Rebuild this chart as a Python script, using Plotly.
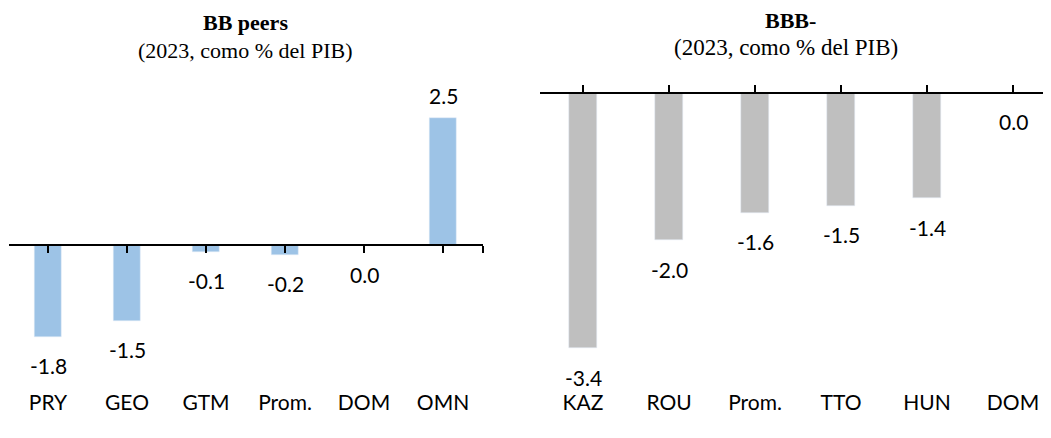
import plotly.graph_objects as go

# ---- data ----
bb_categories = ["PRY", "GEO", "GTM", "Prom.", "DOM", "OMN"]
bb_values = [-1.8, -1.49, -0.13, -0.19, 0.0, 2.49]

bbb_categories = ["KAZ", "ROU", "Prom.", "TTO", "HUN", "DOM"]
bbb_values = [-3.41, -1.97, -1.6, -1.51, -1.41, 0.0]

left_title = "BB peers"
right_title = "BBB-"
subtitle = "(2023, como % del PIB)"

# page is 1051x438, html body adds an 8px margin
PAGE_W, PAGE_H, OFF = 1051, 438, 8
W, H = PAGE_W - OFF, PAGE_H - OFF


def px(p):
    return (p - OFF) / W


def py(p):
    return 1 - (p - OFF) / H


BLUE = "#9DC3E6"
GRAY = "#BFBFBF"
LABEL_FONT = dict(family="Lato, Calibri, sans-serif", size=21, color="#000000")
TITLE_FONT = "Liberation Serif, Palatino, serif"

# plot-area geometry (page pixels -> paper fractions)
y_dom = [py(388), py(80)]
left_dom = [px(8.5), px(482.5)]
right_dom = [px(540), px(PAGE_W)]
n = len(bb_categories)
left_xrange = [-0.5, n - 0.5]
right_xrange = [-0.5, (PAGE_W - 540) / 86 - 0.5]
left_range = [-(388 - 245) / 51, (245 - 80) / 51]
right_range = [-(388 - 92.7) / 75, (92.7 - 80) / 75]


def zero_pos(rng, dom):
    return dom[0] + (0 - rng[0]) / (rng[1] - rng[0]) * (dom[1] - dom[0])


fig = go.Figure()

fig.add_trace(go.Bar(x=bb_categories, y=bb_values, marker_color=BLUE, width=0.33,
                     xaxis="x", yaxis="y", showlegend=False, hoverinfo="x+y"))
fig.add_trace(go.Bar(x=bbb_categories, y=bbb_values, marker_color=GRAY, width=0.33,
                     xaxis="x2", yaxis="y2", showlegend=False, hoverinfo="x+y"))

# invisible traces to carry the zero-line axes
fig.add_trace(go.Scatter(x=bb_categories, y=bb_values, mode="markers",
                         marker=dict(opacity=0), xaxis="x3", yaxis="y",
                         showlegend=False, hoverinfo="skip"))
fig.add_trace(go.Scatter(x=bbb_categories, y=bbb_values, mode="markers",
                         marker=dict(opacity=0), xaxis="x4", yaxis="y2",
                         showlegend=False, hoverinfo="skip"))

common_x = dict(type="category", showgrid=False, zeroline=False, showline=False,
                ticks="", tickfont=LABEL_FONT, fixedrange=True)
zero_axis = dict(type="category", showgrid=False, zeroline=False, showline=True,
                 linecolor="#000000", linewidth=2, ticks="outside", ticklen=7,
                 tickwidth=2, tickcolor="#000000", tickmode="array",
                 showticklabels=False, anchor="free", fixedrange=True)

fig.update_layout(
    width=W, height=H,
    margin=dict(l=0, r=0, t=0, b=0),
    paper_bgcolor="white", plot_bgcolor="rgba(0,0,0,0)",
    bargap=0,
    xaxis=dict(common_x, domain=left_dom, range=left_xrange, anchor="y"),
    yaxis=dict(domain=y_dom, range=left_range, visible=False, fixedrange=True),
    xaxis2=dict(common_x, domain=right_dom, range=right_xrange, anchor="y2"),
    yaxis2=dict(domain=y_dom, range=right_range, visible=False, fixedrange=True),
    xaxis3=dict(zero_axis, overlaying="x", side="bottom", range=left_xrange,
                position=zero_pos(left_range, y_dom),
                tickvals=list(range(n)) + [n - 0.5], ticktext=[""] * (n + 1)),
    xaxis4=dict(zero_axis, overlaying="x2", side="top", range=right_xrange,
                position=zero_pos(right_range, y_dom),
                tickvals=list(range(n)), ticktext=[""] * n),
)

annotations = []
for cats, vals, xr, yr in [(bb_categories, bb_values, "x", "y"),
                           (bbb_categories, bbb_values, "x2", "y2")]:
    for c, v in zip(cats, vals):
        annotations.append(dict(
            x=c, y=v, xref=xr, yref=yr, text=f"{v:.1f}", showarrow=False,
            font=LABEL_FONT, yanchor="middle", xanchor="center",
            yshift=23 if v > 0 else -29))

title_font = dict(family=TITLE_FONT, size=22, color="#000")
right_title_font = dict(family=TITLE_FONT, size=23, color="#000")
annotations += [
    dict(x=px(245), y=py(22), xref="paper", yref="paper", xanchor="center",
         text=f"<b>{left_title}</b>", showarrow=False, font=title_font,
         yanchor="middle", borderpad=0),
    dict(x=px(245), y=py(50), xref="paper", yref="paper", xanchor="center",
         text=subtitle, showarrow=False, font=title_font, yanchor="middle",
         borderpad=0),
    dict(x=px(790), y=py(21), xref="paper", yref="paper", xanchor="center",
         text=f"<b>{right_title}</b>", showarrow=False, font=title_font,
         yanchor="middle", borderpad=0),
    dict(x=px(786), y=py(47), xref="paper", yref="paper", xanchor="center",
         text=subtitle, showarrow=False, font=right_title_font, yanchor="middle",
         borderpad=0),
]
fig.update_layout(annotations=annotations)

fig.write_html("out.html", config={"displayModeBar": False})
